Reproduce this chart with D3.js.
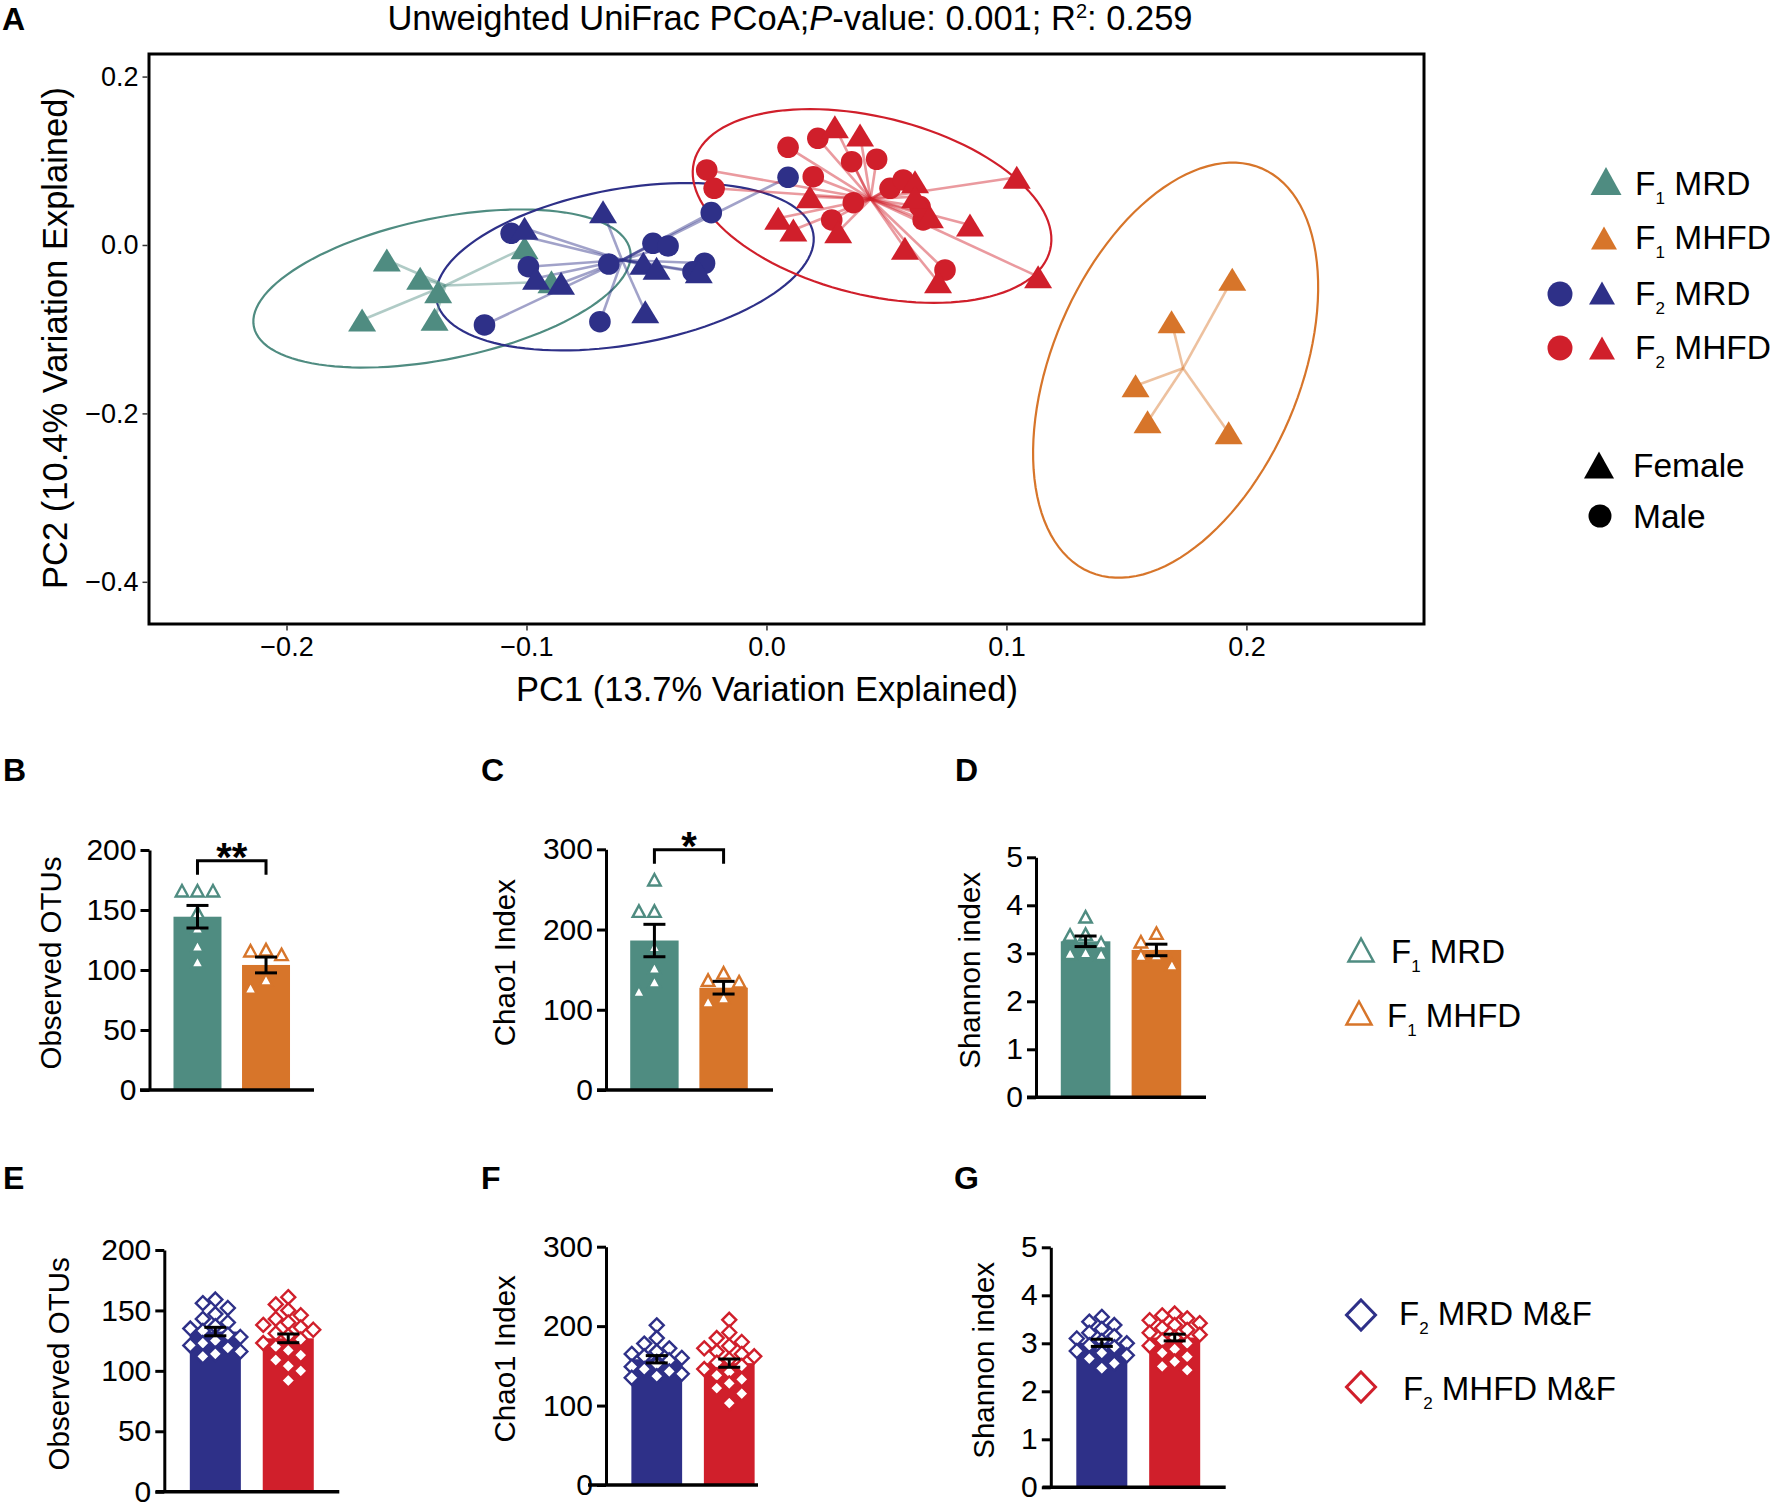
<!DOCTYPE html>
<html><head><meta charset="utf-8">
<script src="https://cdn.jsdelivr.net/npm/d3@7"></script>
<style>
body{margin:0;background:#fff;}
svg{display:block;font-family:"Liberation Sans",Arial,Helvetica,sans-serif;}
</style></head><body>
<svg id="fig" width="1776" height="1507"></svg>
<script>
// ================= DATA =================
// Panel A – PCoA coordinates [PC1, PC2]
const f1MrdFemale = [[-0.1582,-0.0178],[-0.1443,-0.0395],[-0.1368,-0.0555],[-0.1685,-0.0891],[-0.1383,-0.0882],[-0.1008,-0.0032],[-0.0896,-0.0436]];
const f1MhfdFemale = [[0.1941,-0.0407],[0.1688,-0.0911],[0.1538,-0.1671],[0.1588,-0.2099],[0.1926,-0.2229]];
const f2MrdMale = [[-0.1064,0.0139],[-0.0992,-0.0258],[-0.1175,-0.0950],[-0.0694,-0.0911],[-0.0657,-0.0226],[-0.0473,0.0020],[-0.0410,-0.0012],[-0.0230,0.0384],[-0.0258,-0.0217],[-0.0306,-0.0317],[0.0090,0.0804]];
const f2MrdFemale = [[-0.1008,0.0198],[-0.0681,0.0395],[-0.0960,-0.0395],[-0.0856,-0.0455],[-0.0513,-0.0217],[-0.0458,-0.0277],[-0.0505,-0.0792],[-0.0282,-0.0317]];
const f2MhfdMale = [[0.0090,0.1160],[0.0214,0.1267],[0.0355,0.0989],[0.0459,0.1018],[0.0195,0.0811],[-0.0249,0.0891],[-0.0218,0.0673],[0.0362,0.0502],[0.0272,0.0297],[0.0515,0.0673],[0.0570,0.0772],[0.0653,0.0297],[0.0744,-0.0297],[0.0640,0.0455]];
const f2MhfdFemale = [[0.0285,0.1405],[0.0390,0.1306],[0.0619,0.0752],[0.1043,0.0804],[0.0181,0.0574],[0.0049,0.0317],[0.0112,0.0178],[0.0299,0.0158],[0.0619,0.0574],[0.0681,0.0336],[0.0848,0.0238],[0.0577,-0.0039],[0.0715,-0.0436],[0.1132,-0.0376]];
// confidence ellipses: [centerPC1, centerPC2, axis1 dPC1, axis1 dPC2, axis2 dPC1, axis2 dPC2]
const ellipseF1Mrd  = [-0.1352,-0.0517, 0.0784, 0.0455, 0.0059,-0.0821];
const ellipseF2Mrd  = [-0.0590,-0.0258, 0.0785, 0.0396, 0.0057,-0.0912];
const ellipseF2Mhfd = [ 0.0440, 0.0463, 0.0742,-0.0523,-0.0089,-0.1025];
const ellipseF1Mhfd = [ 0.1705,-0.1487, 0.0358, 0.2397, 0.0474,-0.0576];
const pcoaXLimits = [-0.2573, 0.2740];
const pcoaYLimits = [-0.4501, 0.2268];
const pcoaXTicks = [-0.2,-0.1,0.0,0.1,0.2];
const pcoaYTicks = [0.2,0.0,-0.2,-0.4];

// Panels B–D (F1)
const f1Groups = ["F1 MRD","F1 MHFD"];
const obsF1Mean = [144.4, 104.2], obsF1Sem = [9.4, 6.6];
const obsF1Mrd = [166,166,166,148,135,120,107];
const obsF1Mhfd = [117,116,113,92,85];
const chaoF1Mean = [186.3, 127.5], chaoF1Sem = [20.2, 7.9];
const chaoF1Mrd = [262,223,223,179,152,135,123];
const chaoF1Mhfd = [146,137,135,115,110];
const shanF1Mean = [3.25, 3.07], shanF1Sem = [0.11, 0.12];
const shanF1Mrd = [3.76,3.40,3.38,3.22,3.02,3.00,2.98];
const shanF1Mhfd = [3.42,3.24,2.97,2.96,2.76];

// Panels E–G (F2)
const f2Groups = ["F2 MRD M&F","F2 MHFD M&F"];
const obsF2Mean = [132.5, 126.9], obsF2Sem = [3.5, 3.6];
const obsF2Mrd = [159,156,152,147,143,140,137,135,133,130,128,125,123,121,119,116,114,112];
const obsF2Mhfd = [161,155,150,146,143,140,138,136,134,131,129,126,123,120,117,113,109,104,100,92];
const chaoF2Mean = [158.3, 153.4], chaoF2Sem = [4.6, 5.2];
const chaoF2Mrd = [201,185,178,172,168,165,162,160,157,155,152,149,146,143,140,137,135];
const chaoF2Mhfd = [208,192,185,180,175,172,168,165,162,158,154,150,146,142,138,133,128,122,115,103];
const shanF2Mean = [3.01, 3.12], shanF2Sem = [0.075, 0.07];
const shanF2Mrd = [3.55,3.45,3.38,3.30,3.22,3.15,3.10,3.05,3.00,2.96,2.92,2.88,2.84,2.80,2.75,2.68,2.58,2.48];
const shanF2Mhfd = [3.62,3.58,3.52,3.48,3.42,3.38,3.32,3.28,3.22,3.18,3.12,3.06,3.00,2.95,2.88,2.80,2.72,2.62,2.52,2.44];

const obsTicks = [0,50,100,150,200];
const chaoTicks = [0,100,200,300];
const shanTicks = [0,1,2,3,4,5];

// ================= STYLE =================
const TEAL="#4f8c81", ORANGE="#d7752a", NAVY="#2e3088", RED="#d01f2b";
const FONT='"Liberation Sans", Arial, Helvetica, sans-serif';
const svg = d3.select("#fig");

function triPath(cx,cy,w,h){return `M${cx},${cy-h/2}L${cx+w/2},${cy+h/2}L${cx-w/2},${cy+h/2}Z`;}
function diaPath(cx,cy,hw,hh){return `M${cx},${cy-hh}L${cx+hw},${cy}L${cx},${cy+hh}L${cx-hw},${cy}Z`;}

function panelLetter(t,x,y){
  svg.append("text").attr("x",x).attr("y",y).text(t)
    .style("font-size","32px").style("font-weight","bold").style("font-family",FONT);
}

// ================= PANEL A =================
const xS = d3.scaleLinear().domain(pcoaXLimits).range([149,1424]);
const yS = d3.scaleLinear().domain(pcoaYLimits).range([624,54]);
const gA = svg.append("g");

const groupsA = [
  {color:TEAL, ell:ellipseF1Mrd, sets:[{pts:f1MrdFemale,shape:"tri"}]},
  {color:NAVY, ell:ellipseF2Mrd, sets:[{pts:f2MrdMale,shape:"circ"},{pts:f2MrdFemale,shape:"tri"}]},
  {color:RED, ell:ellipseF2Mhfd, sets:[{pts:f2MhfdMale,shape:"circ"},{pts:f2MhfdFemale,shape:"tri"}]},
  {color:ORANGE, ell:ellipseF1Mhfd, sets:[{pts:f1MhfdFemale,shape:"tri"}]}
];
const ellLine = d3.line().x(d=>xS(d[0])).y(d=>yS(d[1])).curve(d3.curveLinearClosed);
groupsA.forEach(g=>{
  const e=g.ell, pts=d3.range(0,120).map(k=>{const t=k/120*2*Math.PI;
    return [e[0]+e[2]*Math.cos(t)+e[4]*Math.sin(t), e[1]+e[3]*Math.cos(t)+e[5]*Math.sin(t)];});
  gA.append("path").attr("d",ellLine(pts)).attr("fill","none").attr("stroke",g.color).attr("stroke-width",2.2);
});
// spider lines
groupsA.forEach(g=>{
  const all = g.sets.flatMap(s=>s.pts);
  const c = [d3.mean(all,d=>d[0]), d3.mean(all,d=>d[1])];
  gA.selectAll(null).data(all).join("line")
    .attr("x1",xS(c[0])).attr("y1",yS(c[1])).attr("x2",d=>xS(d[0])).attr("y2",d=>yS(d[1]))
    .attr("stroke",g.color).attr("stroke-opacity",0.45).attr("stroke-width",2.6);
});
// points
[0,2,1,3].forEach(i=>{
  const g=groupsA[i];
  g.sets.forEach(s=>{
    if(s.shape==="circ"){
      gA.selectAll(null).data(s.pts).join("circle").attr("cx",d=>xS(d[0])).attr("cy",d=>yS(d[1])).attr("r",10.8).attr("fill",g.color);
    } else {
      gA.selectAll(null).data(s.pts).join("path").attr("d",d=>triPath(xS(d[0]),yS(d[1]),28,23)).attr("fill",g.color);
    }
  });
});
// frame
gA.append("rect").attr("x",149).attr("y",54).attr("width",1424-149).attr("height",624-54)
  .attr("fill","none").attr("stroke","#000").attr("stroke-width",3);
// axes
const axX = gA.append("g").attr("transform","translate(0,625.5)")
  .call(d3.axisBottom(xS).tickValues(pcoaXTicks).tickSize(5).tickSizeOuter(0).tickPadding(6).tickFormat(d3.format(".1f")));
axX.select(".domain").remove();
axX.selectAll(".tick line").attr("stroke","#333").attr("stroke-width",1.5);
axX.selectAll(".tick text").style("font-size","27px").style("font-family",FONT).attr("fill","#000");
const axY = gA.append("g").attr("transform","translate(147.5,0)")
  .call(d3.axisLeft(yS).tickValues(pcoaYTicks).tickSize(5).tickSizeOuter(0).tickPadding(4).tickFormat(d3.format(".1f")));
axY.select(".domain").remove();
axY.selectAll(".tick line").attr("stroke","#333").attr("stroke-width",1.5);
axY.selectAll(".tick text").style("font-size","27px").style("font-family",FONT).attr("fill","#000");
// titles
const title = svg.append("text").attr("x",790).attr("y",30).attr("text-anchor","middle").style("font-size","34.5px").style("font-family",FONT);
title.append("tspan").text("Unweighted UniFrac PCoA;");
title.append("tspan").style("font-style","italic").text("P");
title.append("tspan").text("-value: 0.001; R");
title.append("tspan").attr("dy",-12).style("font-size","20px").text("2");
title.append("tspan").attr("dy",12).text(": 0.259");
svg.append("text").attr("x",767).attr("y",701).attr("text-anchor","middle").style("font-size","34.5px").style("font-family",FONT)
  .text("PC1 (13.7% Variation Explained)");
svg.append("text").attr("transform","translate(55,338) rotate(-90)").attr("dy","0.35em").attr("text-anchor","middle")
  .style("font-size","34.5px").style("font-family",FONT).text("PC2 (10.4% Variation Explained)");
panelLetter("A",2,30);

// legend A
const legA = svg.append("g").style("font-family",FONT).style("font-size","33px");
function subLabel(g,x,y,main,sub,rest,mainSize,subSize){
  const t=g.append("text").attr("x",x).attr("y",y).style("font-size",mainSize+"px");
  t.append("tspan").text(main);
  t.append("tspan").attr("dy",9).style("font-size",subSize+"px").text(sub);
  t.append("tspan").attr("dy",-9).text(rest);
  return t;
}
legA.append("path").attr("d",triPath(1606,181,31,28)).attr("fill",TEAL);
subLabel(legA,1635,195,"F","1"," MRD",33.5,17);
legA.append("path").attr("d",triPath(1604,238,26,23)).attr("fill",ORANGE);
subLabel(legA,1635,249,"F","1"," MHFD",33.5,17);
legA.append("circle").attr("cx",1560).attr("cy",294).attr("r",12.5).attr("fill",NAVY);
legA.append("path").attr("d",triPath(1602,293,26,23)).attr("fill",NAVY);
subLabel(legA,1635,305,"F","2"," MRD",33.5,17);
legA.append("circle").attr("cx",1560).attr("cy",348).attr("r",12.5).attr("fill",RED);
legA.append("path").attr("d",triPath(1602,348,26,23)).attr("fill",RED);
subLabel(legA,1635,359,"F","2"," MHFD",33.5,17);
legA.append("path").attr("d",triPath(1599,465,30,27)).attr("fill","#000");
legA.append("text").attr("x",1633).attr("y",477).style("font-size","33.5px").text("Female");
legA.append("circle").attr("cx",1600).attr("cy",516).attr("r",11.5).attr("fill","#000");
legA.append("text").attr("x",1633).attr("y",528).style("font-size","33.5px").text("Male");

// ================= BAR PANELS =================
function swarm(values, y, cx, dx, hgt){
  const placed=[];
  const order=values.map((v,i)=>i).sort((a,b)=>values[b]-values[a]);
  const cands=[0,-dx,dx,-2*dx,2*dx];
  order.forEach(i=>{
    const py=y(values[i]);
    let best=0, bestC=Infinity;
    for(const off of cands){
      const c=placed.filter(p=>Math.abs(p.y-py)<hgt && Math.abs(p.x-(cx+off))<dx*0.99).length;
      if(c<bestC){bestC=c;best=off;}
      if(c===0)break;
    }
    placed.push({x:cx+best,y:py});
  });
  return placed;
}

function barPanel(p){
  const g=svg.append("g");
  const y=d3.scaleLinear().domain([0,p.yMax]).range([p.y0,p.yTop]);
  const x=d3.scaleBand().domain(p.groups).range([p.axisX,p.bandEnd]).paddingInner(0.3).paddingOuter(0.35);
  g.selectAll(null).data(p.groups).join("rect")
    .attr("x",d=>x(d)).attr("y",(d,i)=>y(p.means[i])).attr("width",x.bandwidth())
    .attr("height",(d,i)=>p.y0-y(p.means[i])).attr("fill",(d,i)=>p.colors[i]);
  p.groups.forEach((grp,i)=>{
    const cx=x(grp)+x.bandwidth()/2;
    const placed=swarm(p.points[i],y,cx,p.dx,p.hgt);
    g.selectAll(null).data(placed).join("path")
      .attr("d",d=>p.marker==="tri"?triPath(d.x,d.y,12.5,11.5):diaPath(d.x,d.y,7,7))
      .attr("fill","#fff").attr("stroke",p.colors[i]).attr("stroke-width",2.4);
  });
  // error bars
  p.groups.forEach((grp,i)=>{
    const cx=x(grp)+x.bandwidth()/2, hi=y(p.means[i]+p.sems[i]), lo=y(p.means[i]-p.sems[i]);
    g.append("line").attr("x1",cx).attr("x2",cx).attr("y1",hi).attr("y2",lo).attr("stroke","#000").attr("stroke-width",3);
    [hi,lo].forEach(v=>g.append("line").attr("x1",cx-11).attr("x2",cx+11).attr("y1",v).attr("y2",v).attr("stroke","#000").attr("stroke-width",3));
  });
  // y axis
  const ag=g.append("g").attr("transform",`translate(${p.axisX},0)`)
    .call(d3.axisLeft(y).tickValues(p.ticks).tickSize(9).tickSizeOuter(0).tickPadding(4).tickFormat(d3.format("d")));
  ag.select(".domain").attr("stroke-width",3);
  ag.selectAll(".tick line").attr("stroke-width",3);
  ag.selectAll(".tick text").style("font-size","30px").style("font-family",FONT).attr("fill","#000");
  g.append("line").attr("x1",p.lineStart).attr("x2",p.lineEnd).attr("y1",p.y0).attr("y2",p.y0).attr("stroke","#000").attr("stroke-width",3.5);
  // y label
  g.append("text").attr("transform",`translate(${p.labelX},${(p.y0+p.yTop)/2-7}) rotate(-90)`).attr("dy","0.35em")
    .attr("text-anchor","middle").style("font-size","29.5px").style("font-family",FONT).text(p.label);
  // significance
  if(p.sig){
    const top=y(d3.max(p.points[0]))-30;
    const x1=x(p.groups[0])+x.bandwidth()/2, x2=x(p.groups[1])+x.bandwidth()/2;
    g.append("path").attr("d",`M${x1},${top+14}V${top}H${x2}V${top+14}`).attr("fill","none").attr("stroke","#000").attr("stroke-width",3);
    g.append("text").attr("x",(x1+x2)/2).attr("y",top+10).attr("text-anchor","middle")
      .style("font-size","40px").style("font-weight","bold").style("font-family",FONT).text(p.sig);
  }
}

barPanel({axisX:149.5,y0:1090,yTop:850,yMax:200,ticks:obsTicks,bandEnd:314,lineStart:140,lineEnd:314,
  groups:f1Groups,means:obsF1Mean,sems:obsF1Sem,points:[obsF1Mrd,obsF1Mhfd],colors:[TEAL,ORANGE],
  marker:"tri",dx:15.5,hgt:11,label:"Observed OTUs",labelX:51,sig:"**"});
barPanel({axisX:606,y0:1090,yTop:849.3,yMax:300,ticks:chaoTicks,bandEnd:772,lineStart:597,lineEnd:773,
  groups:f1Groups,means:chaoF1Mean,sems:chaoF1Sem,points:[chaoF1Mrd,chaoF1Mhfd],colors:[TEAL,ORANGE],
  marker:"tri",dx:15.5,hgt:11,label:"Chao1 Index",labelX:505,sig:"*"});
barPanel({axisX:1036,y0:1097.3,yTop:857.3,yMax:5,ticks:shanTicks,bandEnd:1206,lineStart:1027,lineEnd:1206,
  groups:f1Groups,means:shanF1Mean,sems:shanF1Sem,points:[shanF1Mrd,shanF1Mhfd],colors:[TEAL,ORANGE],
  marker:"tri",dx:15.5,hgt:11,label:"Shannon index",labelX:970,sig:null});
barPanel({axisX:164.3,y0:1491.7,yTop:1250,yMax:200,ticks:obsTicks,bandEnd:339.3,lineStart:155.6,lineEnd:339.3,
  groups:f2Groups,means:obsF2Mean,sems:obsF2Sem,points:[obsF2Mrd,obsF2Mhfd],colors:[NAVY,RED],
  marker:"dia",dx:12.5,hgt:11,label:"Observed OTUs",labelX:59,sig:null});
barPanel({axisX:606,y0:1485,yTop:1246.7,yMax:300,ticks:chaoTicks,bandEnd:780,lineStart:588,lineEnd:758,
  groups:f2Groups,means:chaoF2Mean,sems:chaoF2Sem,points:[chaoF2Mrd,chaoF2Mhfd],colors:[NAVY,RED],
  marker:"dia",dx:12.5,hgt:11,label:"Chao1 Index",labelX:505,sig:null});
barPanel({axisX:1050.8,y0:1487.3,yTop:1247.3,yMax:5,ticks:shanTicks,bandEnd:1225.7,lineStart:1042.5,lineEnd:1225.7,
  groups:f2Groups,means:shanF2Mean,sems:shanF2Sem,points:[shanF2Mrd,shanF2Mhfd],colors:[NAVY,RED],
  marker:"dia",dx:12.5,hgt:11,label:"Shannon index",labelX:984,sig:null});

panelLetter("B",3,781); panelLetter("C",481,781); panelLetter("D",955,781);
panelLetter("E",3,1189); panelLetter("F",481,1189); panelLetter("G",954,1189);

// bar legends
const legB=svg.append("g").style("font-family",FONT);
legB.append("path").attr("d",triPath(1361,950,25,23)).attr("fill","none").attr("stroke",TEAL).attr("stroke-width",2.5);
subLabel(legB,1391,963,"F","1"," MRD",33,17);
legB.append("path").attr("d",triPath(1359,1013,25,23)).attr("fill","none").attr("stroke",ORANGE).attr("stroke-width",2.5);
subLabel(legB,1387,1027,"F","1"," MHFD",33,17);
legB.append("path").attr("d",diaPath(1361,1315,14.5,15)).attr("fill","none").attr("stroke",NAVY).attr("stroke-width",3);
subLabel(legB,1399,1325,"F","2"," MRD M&F",33,17);
legB.append("path").attr("d",diaPath(1361,1387,14.5,15)).attr("fill","none").attr("stroke",RED).attr("stroke-width",3);
subLabel(legB,1403,1400,"F","2"," MHFD M&F",33,17);
</script>
</body></html>
